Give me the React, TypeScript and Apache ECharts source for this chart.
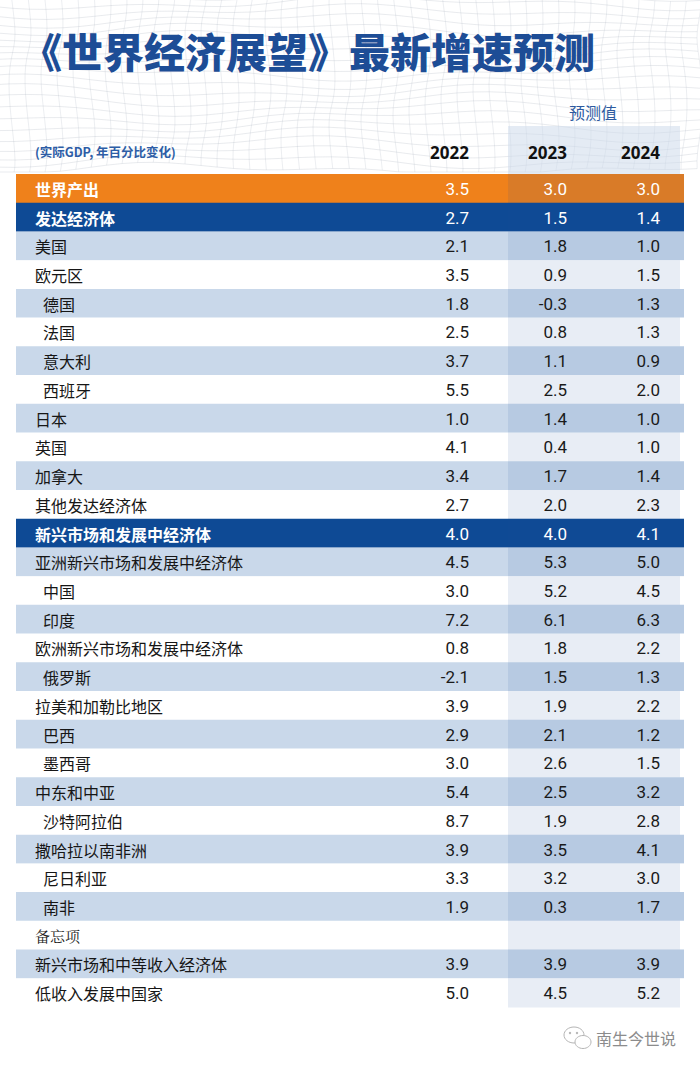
import React, { useEffect, useRef } from 'react';
import * as echarts from 'echarts';

const titleText = '《世界经济展望》最新增速预测';
const subtitleText = '(实际GDP, 年百分比变化)';
const forecastLabel = '预测值';
const watermarkText = '南生今世说';
const years = ['2022', '2023', '2024'];

const regions = [
  '世界产出', '发达经济体', '美国', '欧元区', '德国', '法国', '意大利', '西班牙', '日本', '英国',
  '加拿大', '其他发达经济体', '新兴市场和发展中经济体', '亚洲新兴市场和发展中经济体', '中国', '印度',
  '欧洲新兴市场和发展中经济体', '俄罗斯', '拉美和加勒比地区', '巴西', '墨西哥', '中东和中亚',
  '沙特阿拉伯', '撒哈拉以南非洲', '尼日利亚', '南非', '备忘项', '新兴市场和中等收入经济体', '低收入发展中国家',
];
const growth2022 = [3.5, 2.7, 2.1, 3.5, 1.8, 2.5, 3.7, 5.5, 1.0, 4.1, 3.4, 2.7, 4.0, 4.5, 3.0, 7.2, 0.8, -2.1, 3.9, 2.9, 3.0, 5.4, 8.7, 3.9, 3.3, 1.9, null, 3.9, 5.0];
const growth2023 = [3.0, 1.5, 1.8, 0.9, -0.3, 0.8, 1.1, 2.5, 1.4, 0.4, 1.7, 2.0, 4.0, 5.3, 5.2, 6.1, 1.8, 1.5, 1.9, 2.1, 2.6, 2.5, 1.9, 3.5, 3.2, 0.3, null, 3.9, 4.5];
const growth2024 = [3.0, 1.4, 1.0, 1.5, 1.3, 1.3, 0.9, 2.0, 1.0, 1.0, 1.4, 2.3, 4.1, 5.0, 4.5, 6.3, 2.2, 1.3, 2.2, 1.2, 1.5, 3.2, 2.8, 4.1, 3.0, 1.7, null, 3.9, 5.2];
const rowKinds = [
  'world', 'group', 'main', 'main', 'sub', 'sub', 'sub', 'sub', 'main', 'main',
  'main', 'main', 'group', 'main', 'sub', 'sub', 'main', 'sub', 'main', 'sub',
  'sub', 'main', 'sub', 'main', 'sub', 'sub', 'memo', 'main', 'main',
];

// layout constants (styles, not data)
const GRID_LEFT = 16;
const TABLE_W = 668;
const GRID_TOP = 174;
const GRID_BOTTOM = 63;
const LABEL_X = 19;
const SUB_LABEL_X = 27;
const COL_RIGHT = [453, 551, 644];
const FORECAST_X = 492;

const ORANGE = '#ef811b';
const DARK_BLUE = '#0e4a95';
const LIGHT_ROW = '#c9d8ea';
const OVERLAY = 'rgba(25,75,160,0.10)';
const TITLE_BLUE = '#1d4d96';
const CJK = "'Noto Sans CJK SC', 'Noto Sans', sans-serif";
const NUM = "Roboto, 'Noto Sans', sans-serif";

// zebra striping restarts after each header row
const stripe: boolean[] = (() => {
  const out: boolean[] = [];
  let n = 0;
  rowKinds.forEach((k) => {
    if (k === 'world' || k === 'group') {
      n = 0;
      out.push(false);
    } else {
      out.push(n % 2 === 0);
      n++;
    }
  });
  return out;
})();

function buildMesh() {
  const els: any[] = [];
  const nx = 46;
  const ny = 21;
  const node = (i: number, j: number) => {
    const bx = -20 + i * 16;
    const by = -6 + j * 8.8;
    const dy = 5 * Math.sin(0.011 * bx + 0.45 * j) + 3 * Math.sin(0.029 * bx - 0.35 * j + 1.2);
    const dx = 3 * Math.sin(0.05 * by + 0.013 * bx);
    return [bx + dx, Math.min(by + dy, 172)];
  };
  for (let j = 0; j < ny; j++) {
    const pts: number[][] = [];
    for (let i = 0; i < nx; i++) pts.push(node(i, j));
    els.push({ type: 'polyline', silent: true, z: -10, shape: { points: pts }, style: { stroke: 'rgba(150,160,175,0.30)', lineWidth: 0.7, fill: null } });
  }
  for (let i = 0; i < nx; i++) {
    const pts: number[][] = [];
    for (let j = 0; j < ny; j++) pts.push(node(i, j));
    els.push({ type: 'polyline', silent: true, z: -10, shape: { points: pts }, style: { stroke: 'rgba(150,160,175,0.26)', lineWidth: 0.7, fill: null } });
  }
  return els;
}

function fmt(v: number) {
  return v.toFixed(1);
}

export default function App() {
  const ref = useRef<HTMLDivElement>(null);
  useEffect(() => {
    document.body.style.margin = '0';
    const chart = echarts.init(ref.current!, null, { renderer: 'svg' });
    const data = regions.map((r, i) => [0, i, growth2022[i], growth2023[i], growth2024[i]]);
    const option: any = {
      animation: false,
      backgroundColor: '#ffffff',
      grid: { left: GRID_LEFT, width: TABLE_W, top: GRID_TOP, bottom: GRID_BOTTOM },
      xAxis: { type: 'value', min: 0, max: TABLE_W, show: false },
      yAxis: { type: 'category', data: regions, inverse: true, show: false },
      graphic: [
        ...buildMesh(),
        {
          type: 'rect', z: -5, silent: true,
          shape: { x: GRID_LEFT + FORECAST_X, y: 126, width: 172, height: 48 },
          style: { fill: 'rgba(205,218,235,0.55)' },
        },
        {
          type: 'text', x: 21, y: 50,
          style: { text: titleText, fontSize: 41, fontWeight: 900, fontFamily: CJK, fill: TITLE_BLUE, align: 'left', verticalAlign: 'middle' },
        },
        {
          type: 'text', x: 593, y: 112,
          style: { text: forecastLabel, fontSize: 16, fontFamily: CJK, fill: '#2c5a9f', align: 'center', verticalAlign: 'middle' },
        },
        {
          type: 'text', x: 35, y: 151,
          style: { text: subtitleText, fontSize: 12.5, fontWeight: 'bold', fontFamily: CJK, fill: '#2d5da6', align: 'left', verticalAlign: 'middle' },
        },
        ...years.map((y, k) => ({
          type: 'text', x: GRID_LEFT + COL_RIGHT[k], y: 152,
          style: { text: y, fontSize: 17, fontWeight: 'bold', fontFamily: "'Noto Sans', sans-serif", fill: '#111', align: 'right', verticalAlign: 'middle' },
        })),
        {
          type: 'group', x: 0, y: 0,
          children: [
            { type: 'ellipse', shape: { cx: 574, cy: 1035, rx: 10, ry: 8 }, style: { fill: 'none', stroke: '#b5b5b5', lineWidth: 1 } },
            { type: 'ellipse', shape: { cx: 583, cy: 1042, rx: 8, ry: 6.5 }, style: { fill: '#fff', stroke: '#b5b5b5', lineWidth: 1 } },
            { type: 'circle', shape: { cx: 570, cy: 1033, r: 1.2 }, style: { fill: '#b5b5b5' } },
            { type: 'circle', shape: { cx: 577, cy: 1033, r: 1.2 }, style: { fill: '#b5b5b5' } },
          ],
        },
        {
          type: 'text', x: 596, y: 1038,
          style: { text: watermarkText, fontSize: 16, fontFamily: CJK, fill: '#8c8c8c', align: 'left', verticalAlign: 'middle' },
        },
      ],
      series: [
        {
          type: 'custom',
          clip: false,
          encode: { x: 0, y: 1 },
          data,
          renderItem: (params: any, api: any) => {
            const i = api.value(1);
            const kind = rowKinds[i];
            const c = api.coord([0, i]);
            const h = api.size([0, 1])[1];
            const x0 = c[0];
            const x1 = api.coord([TABLE_W, i])[0];
            const top = c[1] - h / 2;
            const header = kind === 'world' || kind === 'group';
            let bg = stripe[i] ? LIGHT_ROW : '#ffffff';
            if (kind === 'world') bg = ORANGE;
            if (kind === 'group') bg = DARK_BLUE;
            const fx = api.coord([FORECAST_X, i])[0];
            const children: any[] = [
              { type: 'rect', shape: { x: x0, y: top, width: x1 - x0, height: h + 0.4 }, style: { fill: bg } },
              { type: 'rect', shape: { x: fx, y: top, width: (bg === '#ffffff' ? x1 - 4 : x1) - fx, height: h + 0.4 }, style: { fill: OVERLAY } },
            ];
            const lx = api.coord([kind === 'sub' ? SUB_LABEL_X : LABEL_X, i])[0];
            children.push({
              type: 'text',
              style: {
                x: lx, y: c[1] + 0.5, text: regions[i],
                fontSize: kind === 'memo' ? 15 : 16,
                fontWeight: header ? 'bold' : 'normal',
                fontFamily: kind === 'memo' ? "'Noto Serif CJK SC', serif" : CJK,
                fill: header ? '#ffffff' : kind === 'memo' ? '#222222' : '#161616',
                align: 'left', verticalAlign: 'middle',
              },
            });
            for (let k = 0; k < 3; k++) {
              const v = api.value(2 + k);
              if (v === null || v === undefined || isNaN(v)) continue;
              const p = api.coord([COL_RIGHT[k], i]);
              children.push({
                type: 'text',
                style: {
                  x: p[0], y: p[1] + 0.5, text: fmt(v),
                  fontSize: 17, fontFamily: NUM,
                  fill: header ? '#ffffff' : '#1a1a1a',
                  align: 'right', verticalAlign: 'middle',
                },
              });
            }
            return { type: 'group', children };
          },
        },
      ],
    };
    chart.setOption(option);
    return () => chart.dispose();
  }, []);
  return <div ref={ref} style={{ width: 700, height: 1070 }} />;
}
